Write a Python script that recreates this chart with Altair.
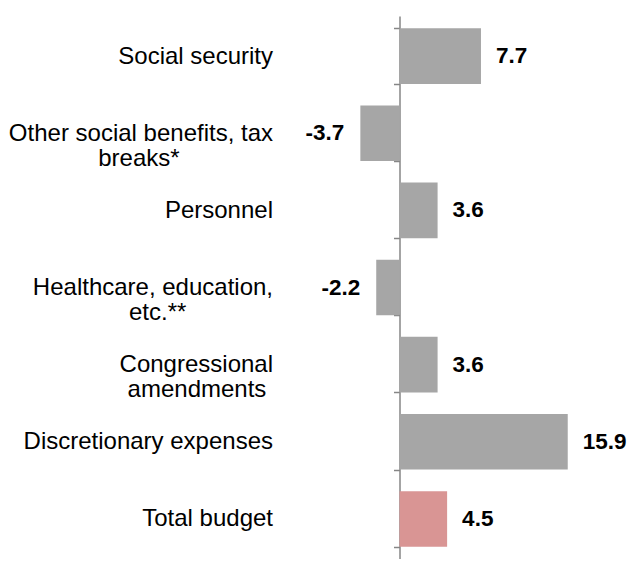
import altair as alt
import pandas as pd

NB = "\u00a0"
ZW = "\u200b"
categories = [
    "Social security",
    "Other social benefits, tax|breaks*" + NB * 14 + ZW,
    "Personnel",
    "Healthcare, education,|etc.**" + NB * 13 + ZW,
    "Congressional|amendments" + NB * 1 + ZW,
    "Discretionary expenses",
    "Total budget",
]
values = [7.7, -3.7, 3.6, -2.2, 3.6, 15.9, 4.5]
kinds = ["item", "item", "item", "item", "item", "item", "total"]

df = pd.DataFrame({
    "cat": categories,
    "value": values,
    "kind": kinds,
    "label": [f"{v:.1f}" for v in values],
})

XMIN, XMAX = -37, 21.5
W, H = 619, 543
zero_px = W * (0 - XMIN) / (XMAX - XMIN)
FONT = "Liberation Sans"

y_enc = alt.Y(
    "cat:N",
    sort=categories,
    scale=alt.Scale(paddingInner=0.28, paddingOuter=0.16),
    axis=alt.Axis(
        title=None,
        orient="left",
        offset=-zero_px,
        tickBand="extent",
        domainColor="#868686",
        domainWidth=1.5,
        tickColor="#868686",
        tickWidth=1.5,
        tickSize=6,
        labelPadding=121,
        labelAlign="right",
        labelBaseline="middle",
        labelFont=FONT,
        labelFontSize=24,
        labelColor="#000000",
        labelLineHeight=25,
        labelExpr="split(datum.label, '|')",
        labelLimit=400,
        grid=False,
    ),
)
x_enc = alt.X("value:Q", scale=alt.Scale(domain=[XMIN, XMAX], nice=False), axis=None)

base = alt.Chart(df)

bars = base.mark_bar().encode(
    x=x_enc,
    y=y_enc,
    color=alt.Color(
        "kind:N",
        scale=alt.Scale(domain=["item", "total"], range=["#A6A6A6", "#D99594"]),
        legend=None,
    ),
)

pos_text = base.transform_filter("datum.value >= 0").mark_text(
    align="left", baseline="middle", dx=15, font=FONT, fontSize=22.5, fontWeight="bold", color="#000000"
).encode(x=x_enc, y=alt.Y("cat:N", sort=categories), text="label:N")

neg_text = base.transform_filter("datum.value < 0").mark_text(
    align="right", baseline="middle", dx=-16, font=FONT, fontSize=22.5, fontWeight="bold", color="#000000"
).encode(x=x_enc, y=alt.Y("cat:N", sort=categories), text="label:N")

chart = alt.layer(bars, pos_text, neg_text).properties(
    width=W,
    height=H,
    background="#ffffff",
    autosize=alt.AutoSizeParams(type="none"),
    padding={"left": 0, "top": 8, "right": 0, "bottom": 0},
).configure_view(stroke=None)

chart.save("out.html", embed_options={"renderer": "svg", "actions": False})
